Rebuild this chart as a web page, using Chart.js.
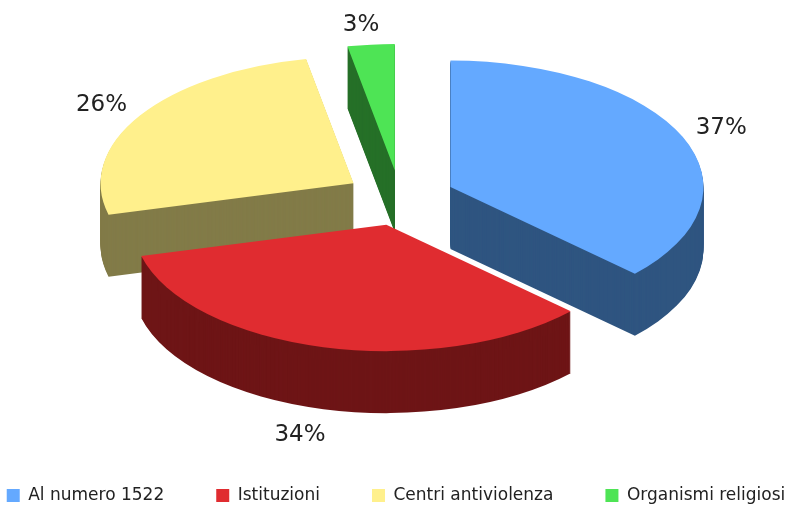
<!DOCTYPE html>
<html>
<head>
<meta charset="utf-8">
<style>
  html, body { margin: 0; background: #fff; }
  #wrap { width: 792px; height: 505px; }
</style>
<script src="https://cdn.jsdelivr.net/npm/chart.js@4/dist/chart.umd.min.js"></script>
</head>
<body>
<div id="wrap"><canvas id="pie" width="792" height="505"></canvas></div>
<script>
const categories = ['Al numero 1522', 'Istituzioni', 'Centri antiviolenza', 'Organismi religiosi'];
const shares = [37, 34, 26, 3];
const topColors = ['#64a9ff', '#e02c30', '#fff08c', '#4ee455'];
const sideColors = ['#2f5580', '#6e1516', '#827b48', '#267028'];

// back to front, so nearer slices cover the ones behind
const paintOrder = [3, 2, 0, 1];
const labelNudge = [[0, 0], [-13, 6], [-3, 1], [-6, 1]];

const squash = 0.5;
const depth = 62;
const explode = 55;
const pieX = 400;
const pieY = 198;

function project(ctx, arc, dy){
  const mid = (arc.startAngle + arc.endAngle) / 2;
  ctx.translate(pieX, pieY + dy);
  ctx.scale(1, squash);
  ctx.translate(Math.cos(mid) * explode - arc.x, Math.sin(mid) * explode - arc.y);
}

const tiltedPie = {
  id: 'tiltedPie',
  // the legend counts extra gaps and would wrap, so let it measure and draw wider
  beforeLayout(chart){
    const lg = chart.legend;
    if(lg.wideFit) return;
    lg.wideFit = true;
    const fit = lg.fit;
    const draw = lg.draw;
    lg.fit = function(){
      this.maxWidth = chart.width + 200;
      fit.call(this);
      this.width = chart.width;
    };
    lg.draw = function(){
      const {left, right} = this;
      this.left = left - 100;
      this.right = right + 100;
      draw.call(this);
      this.left = left;
      this.right = right;
    };
  },
  beforeDatasetDraw(chart){
    const ctx = chart.ctx;
    const arcs = chart.getDatasetMeta(0).data;
    paintOrder.forEach(i => {
      const arc = arcs[i];
      const opts = arc.options;
      arc.options = Object.assign({}, opts, {backgroundColor: sideColors[i]});
      for(let dy = depth; dy > 0; dy--){
        ctx.save();
        project(ctx, arc, dy);
        arc.draw(ctx);
        ctx.restore();
      }
      arc.options = opts;
      ctx.save();
      project(ctx, arc, 0);
      arc.draw(ctx);
      ctx.restore();
    });
    return false;
  },
  afterDatasetsDraw(chart){
    const ctx = chart.ctx;
    const arcs = chart.getDatasetMeta(0).data;
    ctx.save();
    ctx.font = '23px "DejaVu Sans"';
    ctx.fillStyle = '#222';
    ctx.textAlign = 'center';
    ctx.textBaseline = 'middle';
    arcs.forEach((arc, i) => {
      const mid = (arc.startAngle + arc.endAngle) / 2;
      const dist = arc.outerRadius + 42 + explode;
      const below = Math.sin(mid) > 0.5 ? depth : 0;
      const x = pieX + Math.cos(mid) * dist + labelNudge[i][0];
      const y = pieY + Math.sin(mid) * dist * squash + below + labelNudge[i][1];
      ctx.fillText(shares[i] + '%', x, y);
    });
    ctx.restore();
  }
};

new Chart(document.getElementById('pie'), {
  type: 'pie',
  data: {
    labels: categories,
    datasets: [{
      data: shares,
      backgroundColor: topColors,
      borderWidth: 0
    }]
  },
  options: {
    responsive: false,
    animation: false,
    radius: 253,
    layout: {padding: {bottom: -9}},
    plugins: {
      tooltip: {enabled: false},
      legend: {
        position: 'bottom',
        onClick: null,
        labels: {
          boxWidth: 13,
          boxHeight: 13,
          padding: 52,
          color: '#222',
          font: {family: '"DejaVu Sans"', size: 17}
        }
      }
    }
  },
  plugins: [tiltedPie]
});
</script>
</body>
</html>
